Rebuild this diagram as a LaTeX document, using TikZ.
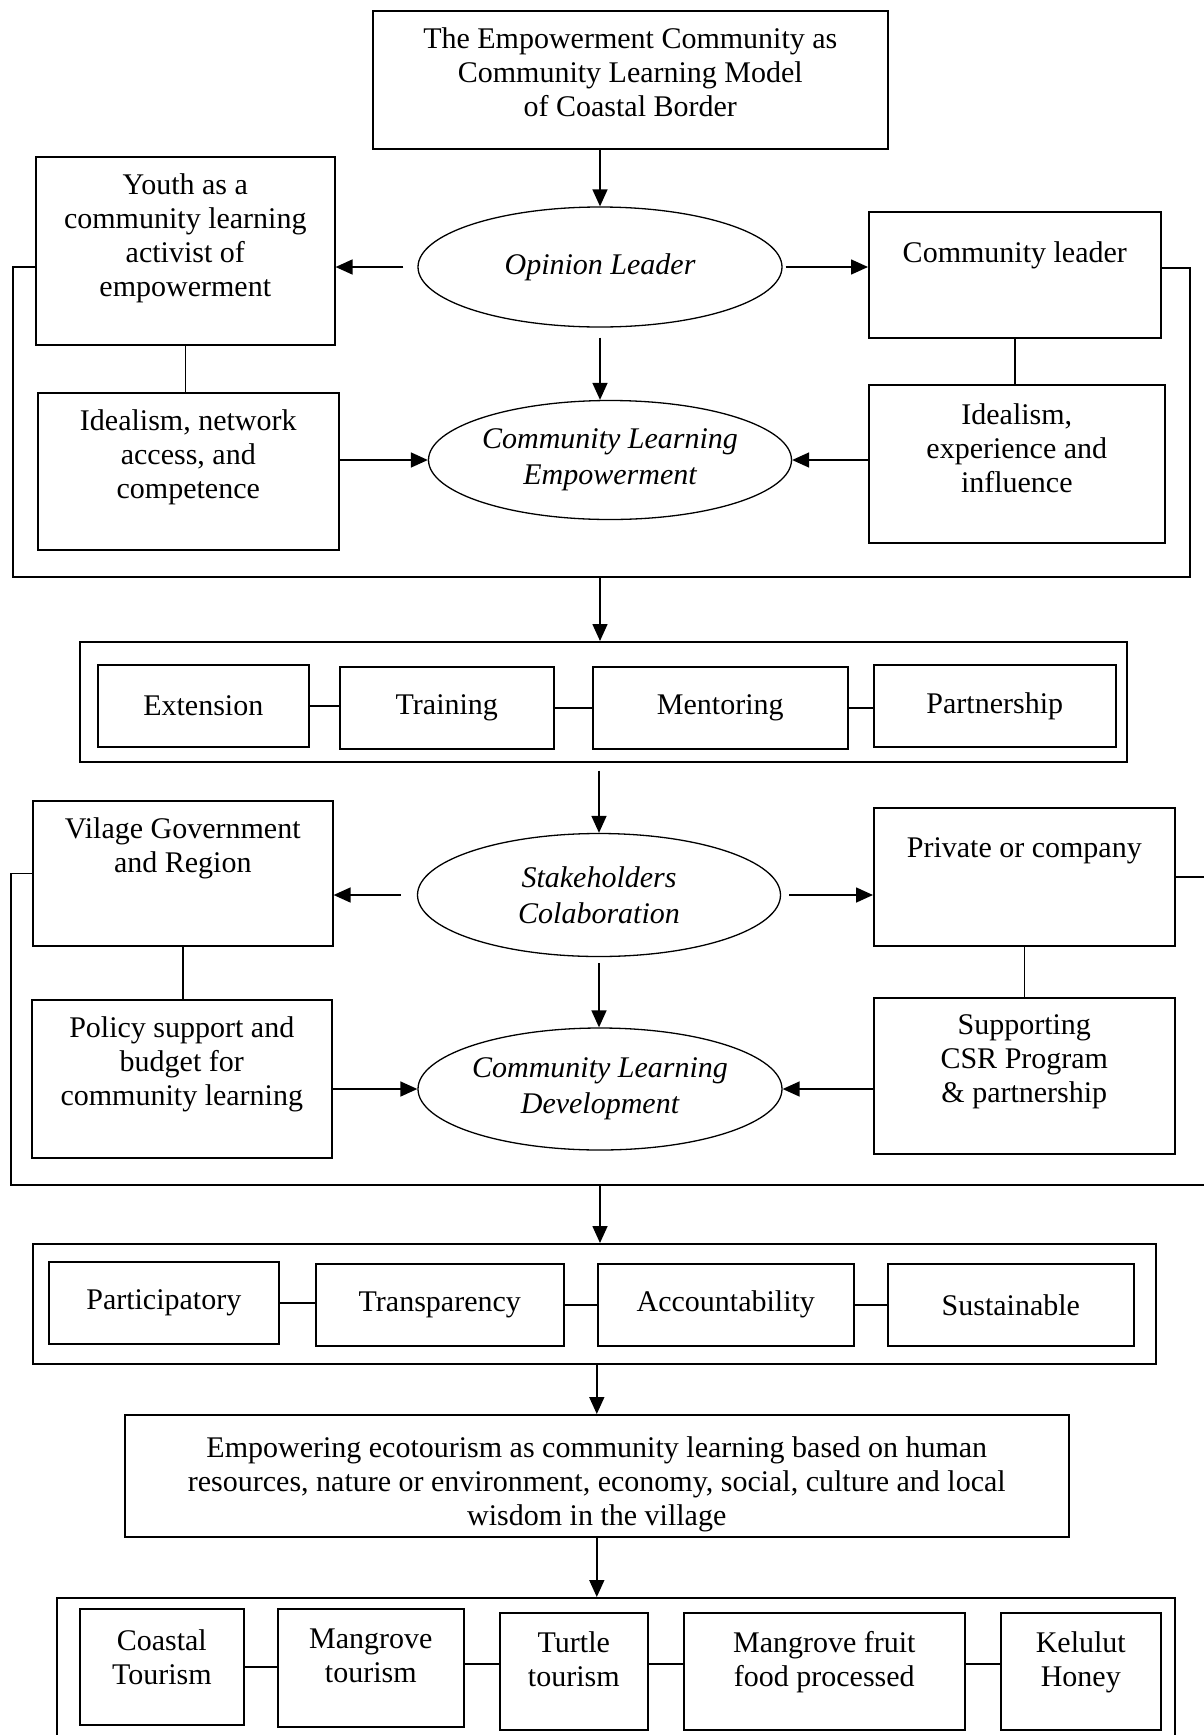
\documentclass[tikz,border=0pt]{standalone}
\usepackage{fontspec}
\setmainfont{Liberation Serif}
\usetikzlibrary{shapes.geometric,arrows.meta}

\begin{document}
\begin{tikzpicture}[x=1pt, y=-1pt, font=\fontsize{30}{34}\selectfont,
    box/.style={draw, line width=1.6pt, inner sep=0pt, anchor=north west, align=center},
    oval/.style={draw, ellipse, line width=1.3pt, inner sep=0pt, font=\fontsize{30}{36}\selectfont\itshape, align=center},
    txt/.style={anchor=north, align=center, inner sep=0pt, yshift=#1},
    txt/.default=-17pt,
    arr/.style={-{Triangle[length=17pt,width=15pt]}, line width=1.6pt},
    link/.style={line width=1.6pt}]
  \useasboundingbox (0,0) rectangle (1203,1735);

  % opinion leader part
  \node[box, minimum width=515pt, minimum height=138pt,
    label={[txt]north:The Empowerment Community as\\Community Learning Model\\of Coastal Border}] (model) at (372,10) {};
  \node[oval, minimum width=364pt, minimum height=120pt] (opinion) at (600,267) {Opinion Leader};
  \node[oval, minimum width=363pt, minimum height=119pt] (empower) at (610,460) {Community Learning\\Empowerment};
  \node[box, minimum width=299pt, minimum height=188pt,
    label={[txt]north:Youth as a\\community learning\\activist of\\empowerment}] (youth) at (35,156) {};
  \node[box, minimum width=301pt, minimum height=157pt,
    label={[txt]north:{Idealism, network\\access, and\\competence}}] (idealnet) at (37,392) {};
  \node[box, minimum width=292pt, minimum height=126pt,
    label={[txt=-30pt]north:Community leader}] (cleader) at (868,211) {};
  \node[box, minimum width=296pt, minimum height=158pt,
    label={[txt=-19pt]north:{Idealism,\\experience and\\influence}}] (idealexp) at (868,384) {};

  \draw[arr] (model.south -| opinion.north) -- (opinion.north);
  \draw[arr, shorten <=14pt] (opinion.west) -- (opinion.west -| youth.east);
  \draw[arr, shorten <=3pt] (opinion.east) -- (opinion.east -| cleader.west);
  \draw[arr, shorten <=10pt] (opinion.south) -- (opinion.south |- empower.north);
  \draw[arr] (idealnet.east |- empower.west) -- (empower.west);
  \draw[arr] (idealexp.west |- empower.east) -- (empower.east);
  \draw[link] (youth.south) -- (youth.south |- idealnet.north);
  \draw[link] (cleader.south) -- (cleader.south |- idealexp.north);

  \coordinate (frameA) at (600,577);
  \draw[link] (youth.west |- opinion) -| (13,577) -- (1190,577) -- (1190,268) -- (cleader.east |- 0,268);

  % learning activities
  \node[box, minimum width=1047pt, minimum height=120pt] (row1) at (79,641) {};
  \node[box, minimum width=211pt, minimum height=82pt] (extension) at (97,664) {Extension};
  \node[box, minimum width=214pt, minimum height=82pt] (training) at (339,666) {Training};
  \node[box, minimum width=255pt, minimum height=82pt] (mentoring) at (592,666) {Mentoring};
  \node[box, minimum width=242pt, minimum height=82pt] (partnership) at (873,664) {Partnership};
  \draw[arr] (frameA) -- (frameA |- row1.north);
  \draw[link] (extension.east) -- (extension.east -| training.west);
  \draw[link] (training.east) -- (training.east -| mentoring.west);
  \draw[link] (mentoring.east) -- (mentoring.east -| partnership.west);

  % stakeholders part
  \node[oval, minimum width=363pt, minimum height=123pt] (stake) at (599,895) {Stakeholders\\Colaboration};
  \node[oval, minimum width=364pt, minimum height=122pt] (develop) at (600,1089) {Community Learning\\Development};
  \node[box, minimum width=300pt, minimum height=145pt,
    label={[txt]north:Vilage Government\\and Region}] (village) at (32,800) {};
  \node[box, minimum width=300pt, minimum height=158pt,
    label={[txt]north:Policy support and\\budget for\\community learning}] (policy) at (31,999) {};
  \node[box, minimum width=301pt, minimum height=138pt,
    label={[txt=-30pt]north:Private or company}] (private) at (873,807) {};
  \node[box, minimum width=301pt, minimum height=156pt,
    label={[txt]north:Supporting\\CSR Program\\\& partnership}] (csr) at (873,997) {};

  \draw[arr, shorten <=8pt] (row1.south -| stake.north) -- (stake.north);
  \draw[arr, shorten <=16pt] (stake.west) -- (stake.west -| village.east);
  \draw[arr, shorten <=8pt] (stake.east) -- (stake.east -| private.west);
  \draw[arr, shorten <=6pt] (stake.south) -- (stake.south |- develop.north);
  \draw[arr] (policy.east |- develop.west) -- (develop.west);
  \draw[arr] (csr.west |- develop.east) -- (develop.east);
  \draw[link] (village.south) -- (village.south |- policy.north);
  \draw[link] (private.south) -- (private.south |- csr.north);

  \coordinate (frameB) at (600,1185);
  \draw[link] (village.west) -| (11,1185) -- (1210,1185);
  \draw[link] (private.east) -- ++(40,0);

  % principles
  \node[box, minimum width=1123pt, minimum height=120pt] (row2) at (32,1243) {};
  \node[box, minimum width=230pt, minimum height=82pt] (particip) at (48,1261) {Participatory};
  \node[box, minimum width=248pt, minimum height=82pt] (transp) at (315,1263) {Transparency};
  \node[box, minimum width=256pt, minimum height=82pt] (account) at (597,1263) {Accountability};
  \node[box, minimum width=246pt, minimum height=82pt] (sustain) at (887,1263) {Sustainable};
  \draw[arr] (frameB) -- (frameB |- row2.north);
  \draw[link] (particip.east) -- (particip.east -| transp.west);
  \draw[link] (transp.east) -- (transp.east -| account.west);
  \draw[link] (account.east) -- (account.east -| sustain.west);

  % ecotourism
  \node[box, minimum width=944pt, minimum height=122pt,
    label={[txt=-22pt]north:{Empowering ecotourism as community learning based on human\\resources, nature or environment, economy, social, culture and local\\wisdom in the village}}] (eco) at (124,1414) {};
  \draw[arr] (row2.south -| eco.north) -- (eco.north);

  \node[box, minimum width=1118pt, minimum height=170pt] (row3) at (56,1597) {};
  \node[box, minimum width=164pt, minimum height=116pt,
    label={[txt=-21pt]north:Coastal\\Tourism}] (coastal) at (79,1608) {};
  \node[box, minimum width=186pt, minimum height=118pt,
    label={[txt=-21pt]north:Mangrove\\tourism}] (mangrove) at (277,1608) {};
  \node[box, minimum width=148pt, minimum height=117pt,
    label={[txt=-19pt]north:Turtle\\tourism}] (turtle) at (499,1612) {};
  \node[box, minimum width=281pt, minimum height=117pt,
    label={[txt=-19pt]north:Mangrove fruit\\food processed}] (fruit) at (683,1612) {};
  \node[box, minimum width=160pt, minimum height=117pt,
    label={[txt=-19pt]north:Kelulut\\Honey}] (honey) at (1000,1612) {};
  \draw[arr] (eco.south) -- (eco.south |- row3.north);
  \draw[link] (coastal.east) -- (coastal.east -| mangrove.west);
  \draw[link] (mangrove.east |- 0,1664) -- (turtle.west |- 0,1664);
  \draw[link] (turtle.east |- 0,1664) -- (fruit.west |- 0,1664);
  \draw[link] (fruit.east |- 0,1664) -- (honey.west |- 0,1664);
\end{tikzpicture}
\end{document}
